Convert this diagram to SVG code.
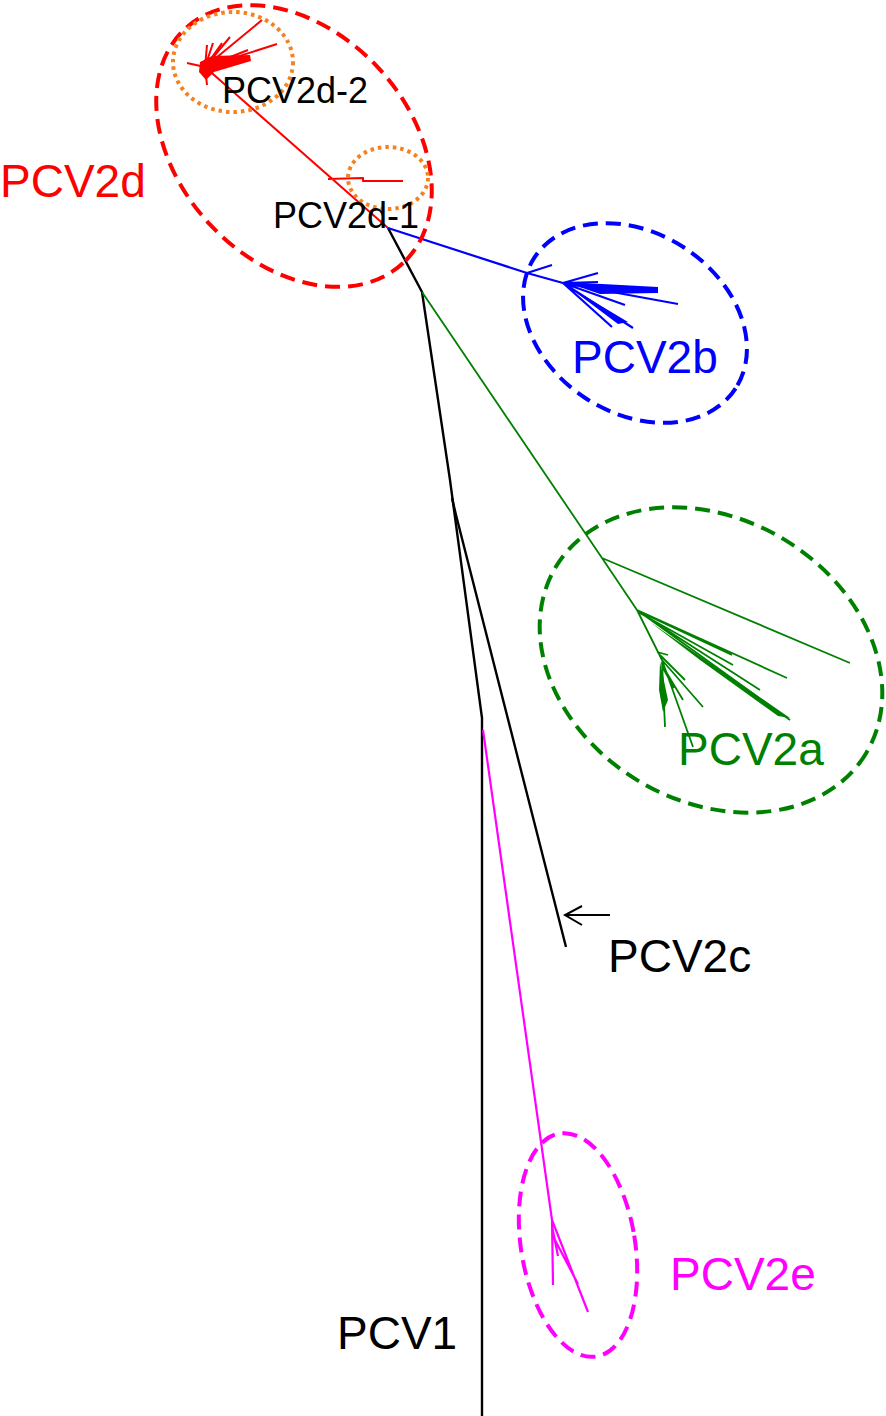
<svg xmlns="http://www.w3.org/2000/svg" width="886" height="1416" viewBox="0 0 886 1416">
<style>
text{font-family:"Liberation Sans",Arial,sans-serif;}
.big{font-size:46px;}
.small{font-size:36px;fill:#000;}
.br{fill:none;stroke-linecap:butt;stroke-linejoin:round;}
.k{stroke:#000;stroke-width:2.4;}
.r{stroke:#ff0000;stroke-width:2;}
.b{stroke:#0000ff;stroke-width:2.2;}
.g{stroke:#008000;stroke-width:1.8;}
.m{stroke:#ff00ff;stroke-width:2.2;}
.dash{fill:none;stroke-width:4;stroke-dasharray:15 8;}
.dot{fill:none;stroke:#f5821f;stroke-width:4;stroke-dasharray:3.5 4;}
</style>
<rect width="886" height="1416" fill="#fff"/>
<g id="connectors">
<path class="br k" d="M388,228 L422,292 L450,480 L482,718 L482,1416"/>
<path class="br k" d="M452,498 L456,515 L566,947"/>
<path class="br m" d="M483,730 L552,1220 L588,1312 M552,1220 L553,1285 M552,1226 L558,1256 M555,1240 L578,1284"/>
<path class="br g" d="M422,292 L602,558 L637,610 L662,660 L693,747 M602,558 L850,663 M637,610 L787,678 M637,610 L790,720 M638,612 L733,665 M640,612 L732,655 M645,616 L760,690 M662,660 L703,707 M662,662 L665,727 M660,655 L685,680 M662,665 L683,700 M657,652 L668,655 M663,668 L674,688"/>
<path d="M650,622 L790,718 L778,716 L700,660 Z" fill="#008000"/>
<path d="M660,662 L668,700 L663,712 L659,690 Z" fill="#008000"/>
<path class="br b" d="M388,228 L527,273 L563,283 M527,273 L552,265 M563,283 L598,273 M563,283 L598,282 M563,283 L658,290 M563,283 L678,304 M563,283 L625,305 M563,283 L633,328 M563,283 L612,327"/>
<path d="M565,282 L658,287 L658,293 L600,294 Z" fill="#0000ff"/>
<path d="M566,285 L628,322 L618,324 Z" fill="#0000ff"/>
<path class="br r" d="M388,228 L205,67 M328,179 L363,178 L363,181 L403,181 M205,67 L262,20 M205,67 L277,44 M205,67 L207,45 M205,67 L213,43 M205,67 L222,43 M205,67 L230,37 M205,67 L187,63 M205,67 L207,85 M205,67 L248,50"/>
<path d="M200,62 L212,56 L250,55 L251,61 L214,72 L206,80 L199,72 Z" fill="#ff0000"/>
</g>
<g id="PCV2d">
<ellipse class="dash" stroke="#ff0000" cx="294" cy="146" rx="160" ry="115" transform="rotate(47 294 146)"/>
<text class="big" x="0" y="197" fill="#ff0000">PCV2d</text>
</g>
<g id="PCV2d-2">
<ellipse class="dot" cx="233" cy="62" rx="60" ry="50"/>
<text class="small" x="222" y="103">PCV2d-2</text>
</g>
<g id="PCV2d-1">
<ellipse class="dot" cx="388" cy="178" rx="40" ry="31"/>
<text class="small" x="273" y="228">PCV2d-1</text>
</g>
<g id="PCV2b">
<ellipse class="dash" stroke="#0000ff" cx="635" cy="323" rx="120" ry="90" transform="rotate(33 635 323)"/>
<text class="big" x="572" y="373" fill="#0000ff">PCV2b</text>
</g>
<g id="PCV2a">
<ellipse class="dash" stroke="#008000" cx="711" cy="660" rx="181" ry="141" transform="rotate(31 711 660)"/>
<text class="big" x="678" y="765" fill="#008000">PCV2a</text>
</g>
<g id="PCV2c">
<path d="M610,915 L565,915 M582,906 L565,915 L582,925" fill="none" stroke="#000" stroke-width="2"/>
<text class="big" x="608" y="972" fill="#000">PCV2c</text>
</g>
<g id="PCV2e">
<ellipse class="dash" stroke="#ff00ff" cx="578" cy="1245" rx="57" ry="113" transform="rotate(-9.4 578 1245)"/>
<text class="big" x="670" y="1290" fill="#ff00ff">PCV2e</text>
</g>
<g id="PCV1">
<text class="big" x="337" y="1349" fill="#000">PCV1</text>
</g>
</svg>
